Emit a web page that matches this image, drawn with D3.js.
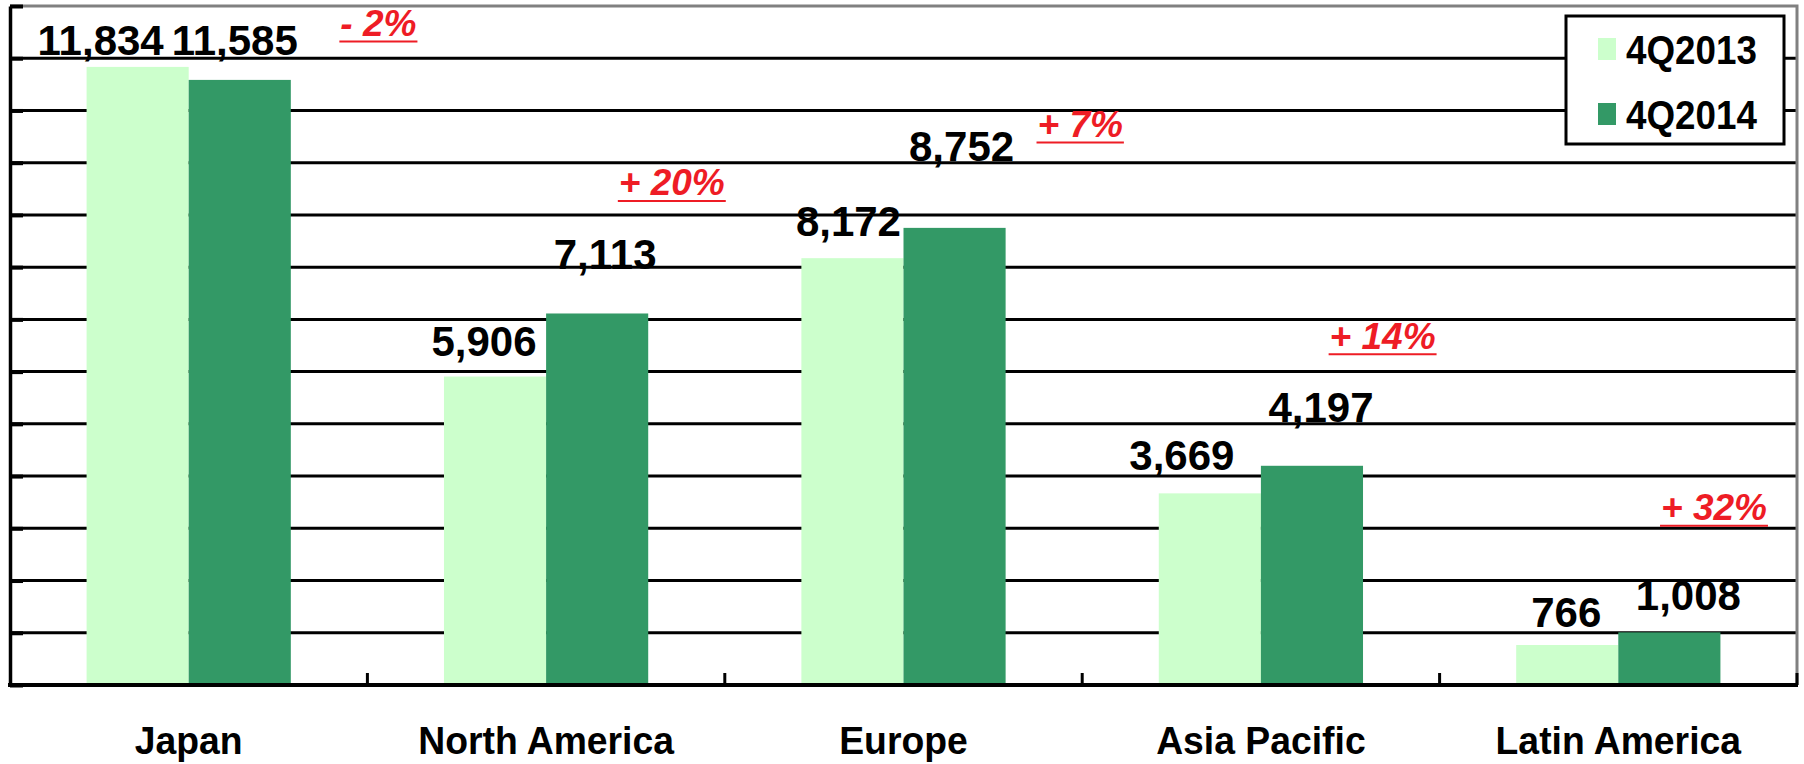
<!DOCTYPE html>
<html>
<head>
<meta charset="utf-8">
<script src="https://cdn.jsdelivr.net/npm/d3@7"></script>
<style>
  html, body { margin: 0; padding: 0; background: #ffffff; }
  svg { display: block; }
  text { font-family: "Liberation Sans", Arial, sans-serif; font-weight: bold; }
</style>
</head>
<body>
<svg id="chart" width="1804" height="764"></svg>
<script>
// ---------------- DATA ----------------
const categories = ["Japan", "North America", "Europe", "Asia Pacific", "Latin America"];
const series = ["4Q2013", "4Q2014"];
const values2013 = [11834, 5906, 8172, 3669, 766];
const values2014 = [11585, 7113, 8752, 4197, 1008];
const yMax = 13000;
const yTickStep = 1000;

// ---------------- LAYOUT / STYLE ----------------
const W = 1804, H = 764;
const plot = { left: 10, right: 1797, top: 6, bottom: 685 };
const colors = { "4Q2013": "#CCFFCC", "4Q2014": "#339966" };
const red = "#EE1C25";
// manual placement of value labels (dx from bar centre, gap above bar top), as in the reference
const labelNudge = {
  "4Q2013": [[-37, 12], [-11, 21], [-4, 22], [-28, 23], [-1, 18]],
  "4Q2014": [[-5, 25], [8, 44], [7, 67], [9, 44], [19, 22]]
};
// manual placement of change annotations (dx from category right edge, rise above 4Q2014 bar top)
const annoNudge = [[11, 44], [-53, 118], [-2, 91], [-57, 117], [-83, 112]];

const svg = d3.select("#chart");
svg.append("rect").attr("width", W).attr("height", H).attr("fill", "#fff");

const x0 = d3.scaleBand().domain(categories).range([plot.left, plot.right]).paddingInner(0).paddingOuter(0);
const x1 = d3.scaleBand().domain(series).range([0, x0.bandwidth()]).paddingInner(0).paddingOuter(0.75);
const y = d3.scaleLinear().domain([0, yMax]).range([plot.bottom, plot.top]);

const seriesValues = { "4Q2013": values2013, "4Q2014": values2014 };
const tickVals = d3.range(0, yMax + 1, yTickStep);

// gridlines
svg.append("g").selectAll("line")
  .data(tickVals.filter(v => v > 0 && v < yMax))
  .join("line")
  .attr("x1", plot.left).attr("x2", plot.right)
  .attr("y1", d => y(d)).attr("y2", d => y(d))
  .attr("stroke", "#000").attr("stroke-width", 3);

// plot border (grey top/right)
svg.append("path")
  .attr("d", `M${plot.left},${plot.top}H${plot.right}V${plot.bottom}`)
  .attr("fill", "none").attr("stroke", "#808080").attr("stroke-width", 3);

// bars
const groups = svg.append("g").selectAll("g")
  .data(categories)
  .join("g")
  .attr("transform", d => `translate(${x0(d)},0)`);

groups.selectAll("rect")
  .data((c, i) => series.map(s => ({ s, v: seriesValues[s][i], i })))
  .join("rect")
  .attr("x", d => x1(d.s))
  .attr("width", x1.bandwidth())
  .attr("y", d => y(d.v))
  .attr("height", d => y(0) - y(d.v))
  .attr("fill", d => colors[d.s]);

// left axis with inside ticks
const yAxis = d3.axisLeft(y).tickValues(tickVals).tickSizeInner(-13).tickSizeOuter(0).tickFormat("");
const gy = svg.append("g").attr("transform", `translate(${plot.left},0)`).call(yAxis);
gy.select(".domain").attr("stroke", "#000").attr("stroke-width", 3.5);
gy.selectAll(".tick line").attr("stroke", "#000").attr("stroke-width", 4);

// bottom axis
svg.append("line")
  .attr("x1", plot.left - 2).attr("x2", plot.right + 1)
  .attr("y1", plot.bottom).attr("y2", plot.bottom)
  .attr("stroke", "#000").attr("stroke-width", 4);
svg.append("g").selectAll("line")
  .data(categories)
  .join("line")
  .attr("x1", d => x0(d) + x0.bandwidth()).attr("x2", d => x0(d) + x0.bandwidth())
  .attr("y1", plot.bottom).attr("y2", plot.bottom - 12)
  .attr("stroke", "#000").attr("stroke-width", 3);

// category labels
svg.append("g").selectAll("text")
  .data(categories)
  .join("text")
  .attr("transform", d => `translate(${x0(d) + x0.bandwidth() / 2},754) scale(0.97,1)`)
  .attr("text-anchor", "middle")
  .attr("font-size", 38.5)
  .attr("fill", "#000")
  .text(d => d);

// value labels
const fmt = d3.format(",");
series.forEach(s => {
  svg.append("g").selectAll("text")
    .data(categories)
    .join("text")
    .attr("x", (c, i) => x0(c) + x1(s) + x1.bandwidth() / 2 + labelNudge[s][i][0])
    .attr("y", (c, i) => y(seriesValues[s][i]) - labelNudge[s][i][1])
    .attr("text-anchor", "middle")
    .attr("font-size", 42)
    .attr("fill", "#000")
    .text((c, i) => fmt(seriesValues[s][i]));
});

// change annotations
const annoG = svg.append("g");
categories.forEach((c, i) => {
  const pct = Math.round((values2014[i] / values2013[i] - 1) * 100);
  const label = (pct < 0 ? "- " : "+ ") + Math.abs(pct) + "%";
  const cx = x0(c) + x0.bandwidth() + annoNudge[i][0];
  const by = y(values2014[i]) - annoNudge[i][1];
  const t = annoG.append("text")
    .attr("x", cx).attr("y", by)
    .attr("text-anchor", "middle")
    .attr("font-size", 37)
    .attr("font-style", "italic")
    .attr("fill", red)
    .text(label);
  const w = t.node().getComputedTextLength();
  annoG.append("line")
    .attr("x1", cx - w / 2 - 1).attr("x2", cx + w / 2 + 1)
    .attr("y1", by + 5.5).attr("y2", by + 5.5)
    .attr("stroke", red).attr("stroke-width", 2);
});

// legend
const lg = svg.append("g");
lg.append("rect")
  .attr("x", 1566).attr("y", 16).attr("width", 218).attr("height", 128)
  .attr("fill", "#fff").attr("stroke", "#000").attr("stroke-width", 3);
const legendRows = lg.selectAll("g.row")
  .data(series)
  .join("g")
  .attr("class", "row")
  .attr("transform", (d, i) => `translate(1598,${38 + i * 65})`);
legendRows.append("rect")
  .attr("x", 0).attr("y", 0).attr("width", 18).attr("height", 22)
  .attr("fill", d => colors[d]);
legendRows.append("text")
  .attr("transform", "translate(28,26) scale(0.92,1)")
  .attr("font-size", 40)
  .attr("fill", "#000")
  .text(d => d);
</script>
</body>
</html>
